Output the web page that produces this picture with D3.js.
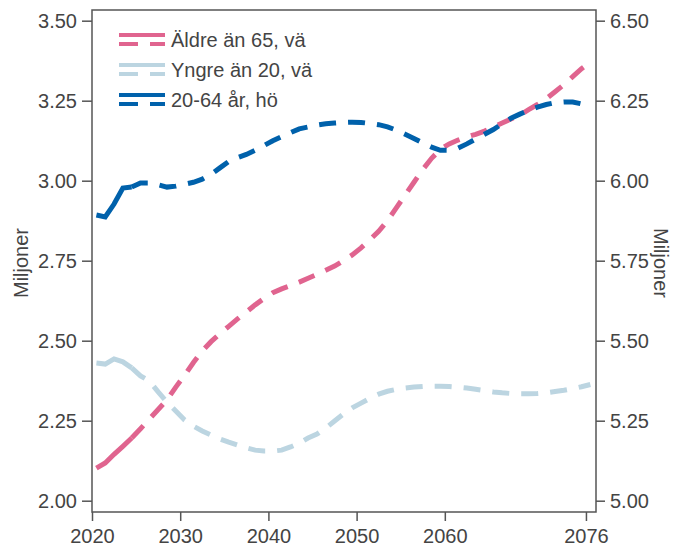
<!DOCTYPE html>
<html>
<head>
<meta charset="utf-8">
<script src="https://cdn.jsdelivr.net/npm/d3@7"></script>
<style>
  body { margin: 0; background: #fff; }
  text { font-family: "Liberation Sans", Arial, sans-serif; }
</style>
</head>
<body>
<div id="chart"></div>
<script>
// data (miljoner), years 2020..2076
years = d3.range(2020, 2077);
lastHistYear = 2024;

// Äldre än 65 (vänster axel)
older65 = [2.102, 2.118, 2.145, 2.170, 2.196, 2.225, 2.255, 2.285, 2.315, 2.355,
  2.392, 2.432, 2.468, 2.497, 2.522, 2.545, 2.568, 2.590, 2.612, 2.632,
  2.650, 2.662, 2.672, 2.683, 2.695, 2.707, 2.720, 2.733, 2.750, 2.768,
  2.790, 2.815, 2.842, 2.875, 2.915, 2.955, 2.995, 3.035, 3.070, 3.098,
  3.115, 3.127, 3.137, 3.145, 3.155, 3.167, 3.180, 3.193, 3.205, 3.222,
  3.238, 3.256, 3.278, 3.300, 3.325, 3.350, 3.370];

// Yngre än 20 (vänster axel)
younger20 = [2.430, 2.427, 2.443, 2.434, 2.415, 2.390, 2.374, 2.340, 2.308, 2.280,
  2.252, 2.233, 2.218, 2.205, 2.193, 2.183, 2.174, 2.165, 2.158, 2.155,
  2.155, 2.158, 2.168, 2.180, 2.196, 2.208, 2.227, 2.249, 2.271, 2.290,
  2.305, 2.320, 2.333, 2.342, 2.348, 2.352, 2.355, 2.357, 2.358, 2.358,
  2.357, 2.355, 2.352, 2.348, 2.344, 2.340, 2.337, 2.335, 2.334, 2.334,
  2.335, 2.337, 2.341, 2.345, 2.350, 2.356, 2.363];

// 20-64 år (höger axel)
working = [5.893, 5.887, 5.927, 5.977, 5.980, 5.993, 5.993, 5.987, 5.980, 5.983,
  5.989, 5.995, 6.005, 6.020, 6.040, 6.060, 6.072, 6.082, 6.095, 6.110,
  6.125, 6.138, 6.150, 6.162, 6.168, 6.174, 6.178, 6.180, 6.182, 6.183,
  6.182, 6.179, 6.175, 6.168, 6.158, 6.145, 6.132, 6.118, 6.105, 6.095,
  6.095, 6.102, 6.115, 6.130, 6.145, 6.160, 6.178, 6.195, 6.208, 6.220,
  6.230, 6.238, 6.244, 6.246, 6.246, 6.240, 6.232];

xTicks = [2020, 2030, 2040, 2050, 2060, 2076];
leftTicks = [2.00, 2.25, 2.50, 2.75, 3.00, 3.25, 3.50];
rightTicks = [5.00, 5.25, 5.50, 5.75, 6.00, 6.25, 6.50];

seriesNames = ["Äldre än 65, vä", "Yngre än 20, vä", "20-64 år, hö"];
seriesColors = ["#e0648f", "#bcd5e1", "#0061ab"];

width = 688;
height = 547;
plot = {left: 92, right: 596, top: 10, bottom: 512};
axisColor = "#555";
textColor = "#444";

function drawChart(divelement) {
  const svg = d3.select("#" + divelement)
    .append("svg")
    .attr("width", width)
    .attr("height", height);

  const x = d3.scaleLinear()
    .domain([2020, 2077.14])
    .range([plot.left, plot.right]);

  const yLeft = d3.scaleLinear()
    .domain([1.9647, 3.5334])
    .range([plot.bottom, plot.top]);

  const yRight = d3.scaleLinear()
    .domain([4.9647, 6.5334])
    .range([plot.bottom, plot.top]);

  // axes
  const xAxis = svg.append("g")
    .attr("transform", `translate(0, ${plot.bottom})`)
    .call(d3.axisBottom(x).tickValues(xTicks).tickFormat(d3.format("d"))
      .tickSizeInner(9).tickSizeOuter(0).tickPadding(8));

  const leftAxis = svg.append("g")
    .attr("transform", `translate(${plot.left}, 0)`)
    .call(d3.axisLeft(yLeft).tickValues(leftTicks).tickFormat(d3.format(".2f"))
      .tickSizeInner(10).tickSizeOuter(0).tickPadding(5));

  const rightAxis = svg.append("g")
    .attr("transform", `translate(${plot.right}, 0)`)
    .call(d3.axisRight(yRight).tickValues(rightTicks).tickFormat(d3.format(".2f"))
      .tickSizeInner(9).tickSizeOuter(0).tickPadding(5));

  [xAxis, leftAxis, rightAxis].forEach(a => {
    a.select(".domain").remove();
    a.selectAll("line").attr("stroke", axisColor).attr("stroke-width", 1.5);
    a.selectAll("text").attr("fill", textColor).attr("font-size", 20)
      .attr("font-family", "Liberation Sans, Arial, sans-serif");
  });

  // frame
  svg.append("rect")
    .attr("x", plot.left)
    .attr("y", plot.top)
    .attr("width", plot.right - plot.left)
    .attr("height", plot.bottom - plot.top)
    .attr("fill", "none")
    .attr("stroke", axisColor)
    .attr("stroke-width", 1.5);

  // axis titles
  svg.append("text")
    .attr("transform", `translate(28, 263) rotate(-90)`)
    .attr("text-anchor", "middle")
    .attr("fill", textColor)
    .attr("font-size", 20)
    .text("Miljoner");

  svg.append("text")
    .attr("transform", `translate(654, 263) rotate(90)`)
    .attr("text-anchor", "middle")
    .attr("fill", textColor)
    .attr("font-size", 20)
    .text("Miljoner");

  // lines
  const series = [
    {values: older65, y: yLeft, color: seriesColors[0]},
    {values: younger20, y: yLeft, color: seriesColors[1]},
    {values: working, y: yRight, color: seriesColors[2]}
  ];

  const linesGroup = svg.append("g");

  series.forEach(s => {
    const pts = years.map((yr, i) => ({year: yr, value: s.values[i]}));
    const line = d3.line()
      .x(d => x(d.year + 0.5))
      .y(d => s.y(d.value));

    linesGroup.append("path")
      .datum(pts.filter(d => d.year <= lastHistYear))
      .attr("d", line)
      .attr("fill", "none")
      .attr("stroke", s.color)
      .attr("stroke-width", 5);

    linesGroup.append("path")
      .datum(pts.filter(d => d.year >= lastHistYear))
      .attr("d", line)
      .attr("fill", "none")
      .attr("stroke", s.color)
      .attr("stroke-width", 5)
      .attr("stroke-dasharray", "17,12");
  });

  // legend
  const legend = svg.append("g");
  seriesNames.forEach((name, i) => {
    const cy = 40 + i * 30;
    legend.append("line")
      .attr("x1", 119).attr("x2", 165)
      .attr("y1", cy - 5).attr("y2", cy - 5)
      .attr("stroke", seriesColors[i])
      .attr("stroke-width", 4);
    legend.append("line")
      .attr("x1", 119).attr("x2", 165)
      .attr("y1", cy + 4).attr("y2", cy + 4)
      .attr("stroke", seriesColors[i])
      .attr("stroke-width", 4)
      .attr("stroke-dasharray", "19,12");
    legend.append("text")
      .attr("x", 171)
      .attr("y", cy)
      .attr("dy", "0.35em")
      .attr("fill", textColor)
      .attr("font-size", 20)
      .text(name);
  });

  return svg.node();
}

function init() {
  drawChart("chart");
}
window.onload = init;
</script>
</body>
</html>
